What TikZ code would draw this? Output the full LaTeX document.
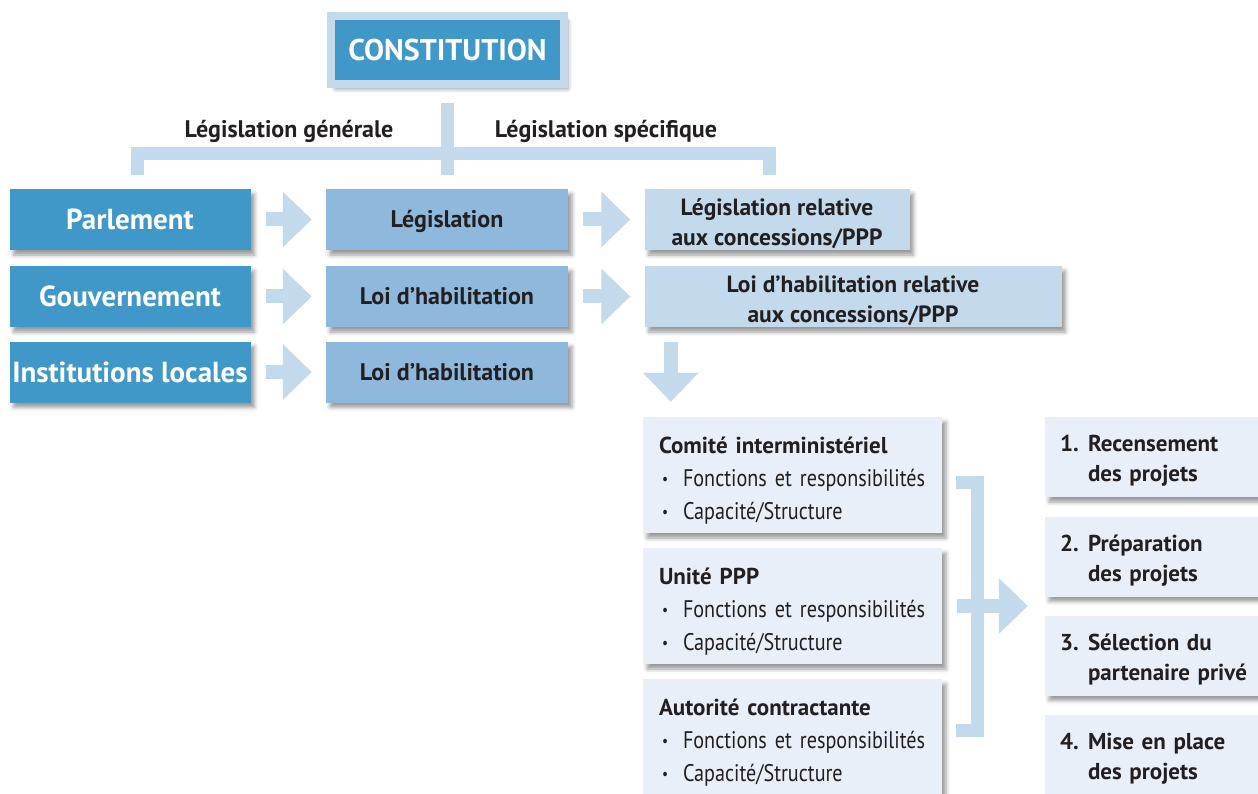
\documentclass[tikz,border=0pt]{standalone}
\usepackage{fontspec}
\setmainfont{PT Sans}
\newfontfamily\narrowfont{PT Sans}[FakeStretch=0.84,WordSpace=0.8]
\usetikzlibrary{arrows.meta,shadows.blur}

\definecolor{cdark}{HTML}{3F98C8}
\definecolor{cmid}{HTML}{8FB9DC}
\definecolor{clight}{HTML}{C3D9EC}
\definecolor{cpale}{HTML}{E8EFF8}
\definecolor{ctext}{HTML}{231F20}

\newcommand{\bul}{\hspace*{3pt}\makebox[21pt][l]{\raisebox{2pt}{\fontsize{16pt}{16pt}\selectfont •}}}
\newcommand{\stepno}[1]{\makebox[28pt][l]{#1}}
\newcommand{\lift}[1]{\rule{0pt}{#1}}
\newcommand{\acttitle}[1]{\lift{27pt}{\rmfamily\bfseries\fontsize{23pt}{33pt}\selectfont #1}}

\tikzset{
  boxshadow/.style={blur shadow={shadow xshift=4pt,shadow yshift=-5pt,shadow blur radius=4pt,shadow opacity=40}},
  constbox/.style={boxshadow,fill=cdark,draw=clight,line width=8pt,text=white,
    font=\bfseries\fontsize{30pt}{30pt}\selectfont,minimum width=233pt,minimum height=68pt,
    inner sep=0pt,text height=21pt,text depth=0pt},
  orgbox/.style={boxshadow,fill=cdark,text=white,font=\bfseries\fontsize{29pt}{29pt}\selectfont,
    minimum width=241pt,minimum height=61pt,inner sep=0pt,text height=21pt,text depth=0pt},
  lawbox/.style={boxshadow,fill=cmid,text=ctext,font=\bfseries\fontsize{24pt}{24pt}\selectfont,
    minimum width=242pt,minimum height=61pt,inner sep=0pt,text height=17pt,text depth=0pt},
  ppplaw/.style={boxshadow,fill=clight,text=ctext,font=\bfseries\fontsize{23.5pt}{30pt}\selectfont,
    minimum height=61pt,inner sep=0pt,align=center},
  actor/.style={boxshadow,fill=cpale,text=ctext,font=\narrowfont\fontsize{24pt}{33pt}\selectfont,
    minimum height=116pt,inner xsep=16pt,inner ysep=0pt,text width=267pt,align=left},
  stage/.style={boxshadow,fill=cpale,text=ctext,font=\bfseries\fontsize{23pt}{30pt}\selectfont,
    minimum height=80pt,inner xsep=15pt,inner ysep=0pt,text width=195pt,align=left},
  head/.style={text=ctext,font=\bfseries\fontsize{24pt}{24pt}\selectfont,inner sep=0pt},
  flow/.style={draw=clight,line width=14pt,-{Triangle[length=29pt,width=54pt]}},
  bar/.style={draw=clight,line width=13pt,line join=miter}
}

\begin{document}
\begin{tikzpicture}[x=1pt,y=-1pt]
  \useasboundingbox (0,0) rectangle (1258,794);

  % top of the tree
  \node[constbox] (const) at (447.5,50) {CONSTITUTION};
  \coordinate (stem) at (447.5,103);
  \coordinate (fork) at (447.5,175);
  \coordinate (genl) at (137,175);
  \coordinate (spcr) at (769,175);
  \draw[bar] (stem) -- (fork);
  \draw[bar] (genl) -- ++(0,-21.5) -| (spcr);
  \node[head,anchor=base] (gen) at (289,138) {Législation générale};
  \node[head,anchor=base] (spec) at (606,138) {Législation spécifique};

  % three rows
  \foreach \n/\y/\t in {parl/219.5/Parlement, gouv/296.5/Gouvernement, inst/372/Institutions locales}
    \node[orgbox] (\n) at (130,\y) {\t};
  \foreach \n/\y/\t in {legis/219.5/Législation, hab/296.5/Loi d’habilitation, habloc/372/Loi d’habilitation}
    \node[lawbox] (\n) at (447,\y) {\t};
  \node[ppplaw,minimum width=265pt] (legspec) at (777,219.5) {\lift{26pt}Législation relative\\aux concessions/PPP};
  \node[ppplaw,minimum width=417pt] (habspec) at (853,296.5) {\lift{26pt}Loi d’habilitation relative\\aux concessions/PPP};

  \foreach \a/\b in {parl/legis, gouv/hab, inst/habloc, legis/legspec, hab/habspec}
    \draw[flow,shorten <=15pt,shorten >=14pt] (\a.east) -- (\b.west);

  % actors
  \node[actor] (comite) at (792.5,475) {\acttitle{Comité interministériel}\\\bul Fonctions et responsibilités\\\bul Capacité/Structure};
  \node[actor] (unite) at (792.5,606) {\acttitle{Unité PPP}\\\bul Fonctions et responsibilités\\\bul Capacité/Structure};
  \node[actor] (autorite) at (792.5,737) {\acttitle{Autorité contractante}\\\bul Fonctions et responsibilités\\\bul Capacité/Structure};

  \coordinate (down) at ([xshift=26.5pt]habspec.south west);
  \draw[flow,shorten <=15pt,shorten >=15pt] (down) -- (down |- comite.north);

  % project steps
  \node[stage] (rec) at (1157.5,457) {\lift{24.5pt}\stepno{1.}Recensement\\\stepno{}des projets};
  \node[stage] (prep) at (1157.5,556.5) {\lift{24.5pt}\stepno{2.}Préparation\\\stepno{}des projets};
  \node[stage] (sel) at (1157.5,655.5) {\lift{24.5pt}\stepno{3.}Sélection du\\\stepno{}partenaire privé};
  \node[stage] (mise) at (1157.5,755) {\lift{24.5pt}\stepno{4.}Mise en place\\\stepno{}des projets};

  \coordinate (brt) at (956,482);
  \coordinate (brb) at (956,730);
  \draw[bar] (brt) -- ++(21.5,0) |- (brb);
  \draw[flow,shorten <=15pt,shorten >=17pt] (unite.east) -- (unite.east -| rec.west);
\end{tikzpicture}
\end{document}
